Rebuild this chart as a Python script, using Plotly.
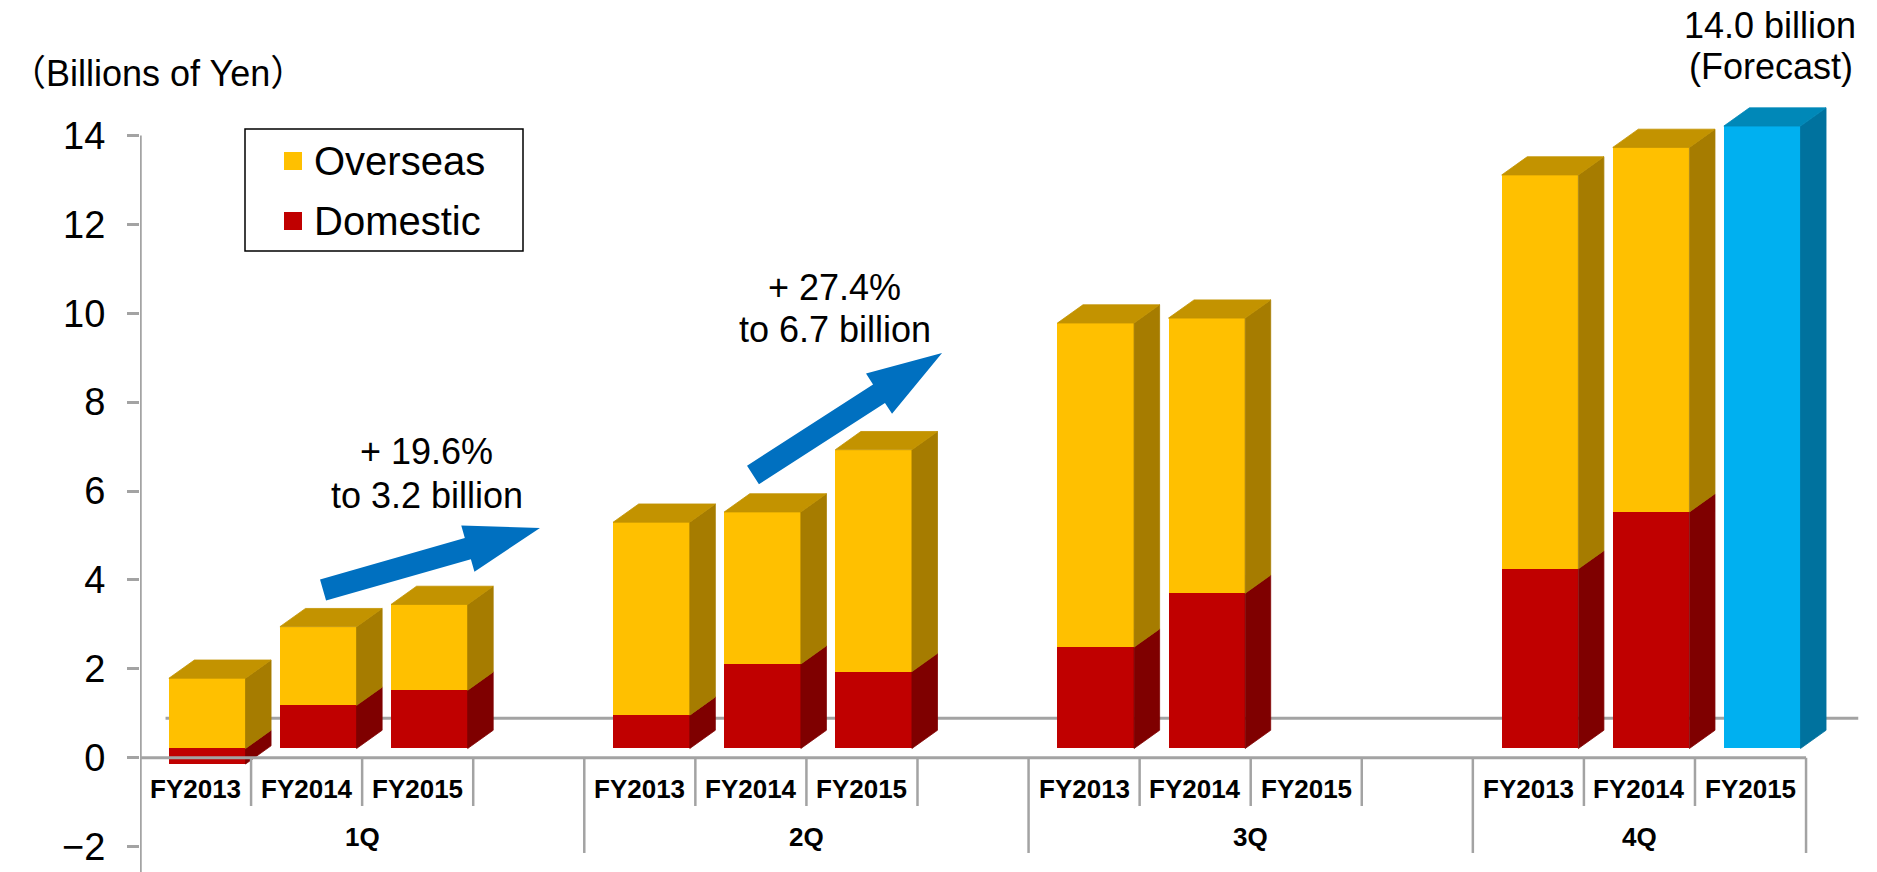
import math
import plotly.graph_objects as go

# ---- data (billions of yen) -------------------------------------------
quarters = ["1Q", "2Q", "3Q", "4Q"]
fiscal_years = ["FY2013", "FY2014", "FY2015"]
# order: 1Q FY2013, 1Q FY2014, 1Q FY2015, 2Q FY2013, ... 4Q FY2015
domestic = [-0.35, 0.97, 1.31, 0.75, 1.90, 1.73, 2.28, 3.49, None, 4.04, 5.32, None]
overseas = [1.58, 1.77, 1.93, 4.34, 3.42, 4.99, 7.29, 6.19, None, 8.86, 8.20, None]
forecast = [None, None, None, None, None, None, None, None, None, None, None, 14.0]
y_ticks = [-2, 0, 2, 4, 6, 8, 10, 12, 14]

growth_notes = [("+ 19.6%", "to 3.2 billion"), ("+ 27.4%", "to 6.7 billion")]
forecast_note = ("14.0 billion", "(Forecast)")
unit_label = "（Billions of Yen）"

# ---- geometry ------------------------------------------------------------
W, H = 1877, 872
ML = 140
SLOT_PX = 111.07
XR = [-0.5, -0.5 + (W - ML) / SLOT_PX]
YR = [-2.568, 17.045]      # value axis
Y2R = [-2.778, 16.835]     # floor of the 3-D bars sits slightly above zero
BAR_W, BAR_OFF = 0.69, -0.24
DX, DY = 0.23, 0.41        # depth of the 3-D extrusion (x slots, y2 units)

FONT = "Liberation Sans, Arial, Noto Sans CJK JP, sans-serif"

series = [
    ("Domestic", domestic, "#C00000", "#7F0000", "#A00000"),
    ("Overseas", overseas, "#FFC000", "#A67C00", "#C39300"),
    ("Forecast", forecast, "#00B0F0", "#00729E", "#0088B8"),
]

# slot index of each bar: 4 slots per quarter (3 years + a spacer)
positions = [qi * 4 + yi for qi in range(len(quarters)) for yi in range(len(fiscal_years))]


def px(x):
    return ML + (x - XR[0]) / (XR[1] - XR[0]) * (W - ML)


def py(y):
    return H * (YR[1] - y) / (YR[1] - YR[0])


def inv_px(p):
    return XR[0] + (p - ML) / (W - ML) * (XR[1] - XR[0])


def inv_py(p):
    return YR[1] - p / H * (YR[1] - YR[0])


fig = go.Figure()

# front faces
for name, vals, front, side, top in series:
    fig.add_trace(go.Bar(
        x=positions, y=vals, name=name, yaxis="y2",
        width=BAR_W, offset=BAR_OFF,
        marker=dict(color=front, line=dict(width=0)),
        showlegend=False,
    ))


def face(xs, ys, color):
    fig.add_trace(go.Scatter(
        x=xs + [xs[0]], y=ys + [ys[0]], yaxis="y2", mode="lines",
        fill="toself", fillcolor=color, line=dict(color=color, width=0.8),
        hoverinfo="skip", showlegend=False,
    ))


# side and top faces, stacked the same way as barmode="relative"
for i, pos in enumerate(positions):
    x0 = pos + BAR_OFF
    x1 = x0 + BAR_W
    pos_base, neg_base = 0.0, 0.0
    top_val, top_color = None, None
    for name, vals, front, side, top in series:
        v = vals[i]
        if v is None:
            continue
        if v >= 0:
            lo, hi = pos_base, pos_base + v
            pos_base = hi
            top_val, top_color = hi, top
        else:
            lo, hi = neg_base + v, neg_base
            neg_base = lo
        face([x1, x1 + DX, x1 + DX, x1], [lo, lo + DY, hi + DY, hi], side)
    if top_val is not None:
        face([x0, x0 + DX, x1 + DX, x1], [top_val, top_val + DY, top_val + DY, top_val], top_color)

shapes = []
GRAY = "#A3A3A3"

# back floor edge
shapes.append(dict(type="line", xref="x", yref="y", x0=XR[0] + DX, x1=14.97, y0=0.89, y1=0.89,
                   line=dict(color=GRAY, width=3), layer="below"))
# value axis line
shapes.append(dict(type="line", xref="x", yref="y", x0=-0.5, x1=-0.5, y0=14, y1=YR[0],
                   line=dict(color=GRAY, width=3.5), layer="above"))
# category axis line
last_slot = positions[-1] + 0.5
shapes.append(dict(type="line", xref="x", yref="y", x0=-0.5, x1=last_slot, y0=0, y1=0,
                   line=dict(color=GRAY, width=3), layer="above"))

# dividers: short between years, long between quarters
group_edges = []
for qi in range(len(quarters)):
    n_slots = 4 if qi < len(quarters) - 1 else 3
    start = qi * 4 - 0.5
    for k in range(1, n_slots):
        shapes.append(dict(type="line", xref="x", yref="y", x0=start + k, x1=start + k,
                           y0=0, y1=-1.084, line=dict(color=GRAY, width=2.5)))
    group_edges.append((start, start + n_slots))
    shapes.append(dict(type="line", xref="x", yref="y", x0=start + n_slots, x1=start + n_slots,
                       y0=0, y1=-2.14, line=dict(color=GRAY, width=2.5)))


# growth arrows
def arrow_path(tail, tip, shaft=22, head_w=48, head_l=75):
    tx, ty = px(tail[0]), py(tail[1])
    hx, hy = px(tip[0]), py(tip[1])
    L = math.hypot(hx - tx, hy - ty)
    ux, uy = (hx - tx) / L, (hy - ty) / L
    nx, ny = -uy, ux
    bx, by = hx - ux * head_l, hy - uy * head_l
    s, h = shaft / 2, head_w / 2
    pts = [(tx + nx * s, ty + ny * s), (bx + nx * s, by + ny * s), (bx + nx * h, by + ny * h),
           (hx, hy), (bx - nx * h, by - ny * h), (bx - nx * s, by - ny * s), (tx - nx * s, ty - ny * s)]
    return "M " + " L ".join(f"{inv_px(a):.4f},{inv_py(b):.4f}" for a, b in pts) + " Z"


arrows = [((1.148, 3.774), (3.101, 5.169)), ((5.019, 6.361), (6.721, 9.105))]
for tail, tip in arrows:
    shapes.append(dict(type="path", xref="x", yref="y", path=arrow_path(tail, tip),
                       fillcolor="#0070C0", line=dict(width=0), layer="above"))

annotations = []
# category labels
for i, pos in enumerate(positions):
    annotations.append(dict(x=pos, y=-0.70, xref="x", yref="y", text=f"<b>{fiscal_years[i % 3]}</b>",
                            xanchor="center", yanchor="middle",
                            showarrow=False, font=dict(family=FONT, size=26, color="black")))
for qi, (a, b) in enumerate(group_edges):
    annotations.append(dict(x=(a + b) / 2, y=-1.78, xref="x", yref="y", text=f"<b>{quarters[qi]}</b>",
                            xanchor="center", yanchor="middle",
                            showarrow=False, font=dict(family=FONT, size=26, color="black")))

# notes
note_pos = [(2.08, 6.90, 5.89), (5.757, 10.58, 9.64)]
for (l1, l2), (x, y1, y2) in zip(growth_notes, note_pos):
    for txt, yy in ((l1, y1), (l2, y2)):
        annotations.append(dict(x=x, y=yy, xref="x", yref="y", text=txt, showarrow=False,
                                xanchor="center", yanchor="middle",
                                font=dict(family=FONT, size=36, color="black")))


def paper_x(p):
    return (p - ML) / (W - ML)


def paper_y(p):
    return 1 - p / H


for txt, xp, yp in ((forecast_note[0], 1770, 25), (forecast_note[1], 1771, 66)):
    annotations.append(dict(x=paper_x(xp), y=paper_y(yp), xref="paper", yref="paper", text=txt,
                            xanchor="center", yanchor="middle", showarrow=False,
                            font=dict(family=FONT, size=36, color="black")))
annotations.append(dict(x=paper_x(8), y=paper_y(74), xref="paper", yref="paper", text=unit_label,
                        xanchor="left", yanchor="middle", showarrow=False,
                        font=dict(family=FONT, size=36, color="black")))

# legend box
shapes.append(dict(type="rect", xref="paper", yref="paper", x0=paper_x(245), x1=paper_x(523),
                   y0=paper_y(251), y1=paper_y(129), line=dict(color="black", width=1.5),
                   fillcolor="white", layer="above"))
legend_rows = [("Overseas", "#FFC000", 161), ("Domestic", "#C00000", 221)]
for label, color, yc in legend_rows:
    shapes.append(dict(type="rect", xref="paper", yref="paper", x0=paper_x(284), x1=paper_x(302),
                       y0=paper_y(yc + 9), y1=paper_y(yc - 9), line=dict(width=0),
                       fillcolor=color, layer="above"))
    annotations.append(dict(x=paper_x(312), y=paper_y(yc), xref="paper", yref="paper", text=label,
                            xanchor="left", yanchor="middle", showarrow=False,
                            font=dict(family=FONT, size=40, color="black")))

fig.update_layout(
    width=W, height=H,
    margin=dict(l=ML, r=0, t=0, b=0),
    paper_bgcolor="white", plot_bgcolor="white",
    barmode="relative", bargap=0,
    showlegend=False,
    xaxis=dict(range=XR, visible=False, fixedrange=True),
    yaxis=dict(range=YR, tickvals=y_ticks, ticktext=[str(t).replace("-", "−") for t in y_ticks],
               showgrid=False, zeroline=False, showline=False,
               ticks="outside", ticklen=12, tickwidth=2.5, tickcolor=GRAY,
               ticklabelstandoff=14,
               tickfont=dict(family=FONT, size=38, color="black")),
    yaxis2=dict(range=Y2R, overlaying="y", visible=False),
    shapes=shapes,
    annotations=annotations,
)

fig.write_html("out.html")
